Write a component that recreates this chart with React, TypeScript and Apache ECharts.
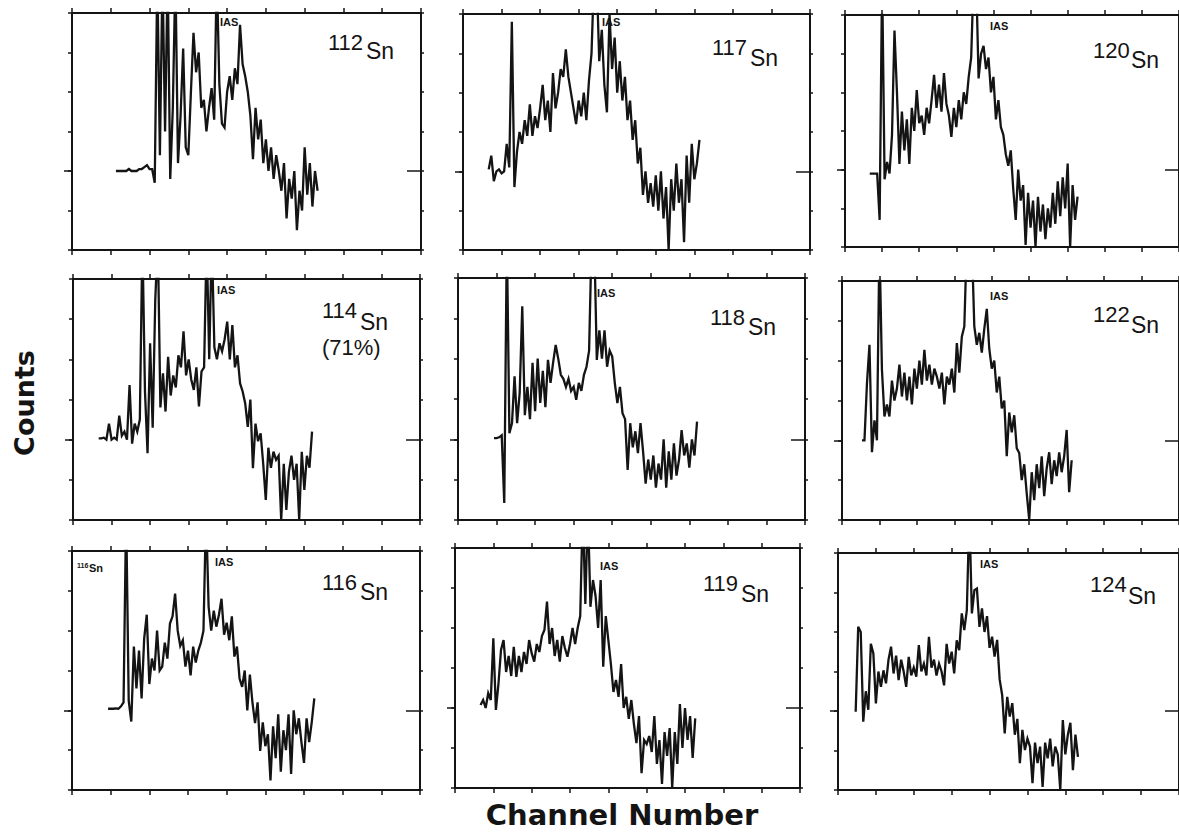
import React, { useEffect, useRef } from "react";
import * as echarts from "echarts";

// ---- data (counts; channel index starts at panelStarts[i]) ----
const panelIsotopes = ["112", "117", "120", "114", "118", "122", "116", "119", "124"];
const panelStarts = [17, 10, 10, 10, 14, 8, 14, 10, 7];

const counts112 = [
  20, 20, 20, 20, 20, 20.5, 20, 20, 20, 20.5, 20.5, 21, 21.5, 20.5, 20.5,
  17, 70, 24, 70, 30, 70, 18, 36, 70, 22, 34, 51, 26, 24, 40, 55, 45, 50, 36, 38,
  30, 36, 41, 33, 70, 42, 32, 31, 40, 44, 38, 46, 42, 57, 47, 44, 40, 34, 23, 36,
  28, 33, 22, 28, 20, 26, 18, 24, 20, 15, 22, 8, 18, 13, 20, 5, 15, 10, 26, 14,
  22, 11, 20, 15,
];
const counts117 = [
  20.5, 24, 17.5, 20, 20.5, 19.5, 20, 27, 21, 58, 16, 25, 30, 27, 33, 29, 37, 29,
  34, 31, 36, 42, 33, 38, 30, 45, 36, 40, 46, 44, 51, 44, 40, 36, 32, 38, 34, 40,
  33, 43, 50, 70, 70, 48, 56, 42, 35, 60, 46, 54, 40, 48, 38, 44, 33, 38, 28, 33,
  22, 26, 14, 20, 12, 17, 11, 19, 10, 20, 8, 16, 0, 18, 10, 22, 12, 18, 2, 24, 12,
  27, 18, 22, 28,
];
const counts120 = [
  19, 19, 19, 19, 7, 70, 17.5, 22, 19, 29, 56, 40, 21.5, 35, 25, 33, 21.5, 36, 30,
  40.6, 32, 34, 29, 36, 32, 38, 44.5, 36, 42, 35, 45, 37, 34, 28.5, 36, 31, 38, 33,
  40, 37, 44, 49, 70, 70, 43.6, 50, 52, 46, 49, 40, 44, 33, 38, 31, 29, 24, 21, 25,
  15, 7, 20, 12, 16, 0.5, 14, 5, 12, 0, 13, 4, 11, 2, 10, 5, 14, 6, 17, 8, 18, 10,
  21.6, 0, 16, 7, 13,
];
const counts114 = [
  20.3, 20.3, 20.5, 20, 24, 20, 20.5, 20, 26, 21, 22, 20, 33.6, 19, 24, 22, 25, 70,
  32, 16.6, 44, 23, 54.7, 70, 28, 36.5, 27, 40.6, 31, 36, 33, 41, 38, 47, 36, 40,
  35, 32.4, 38, 28.3, 37, 38, 70, 40, 70, 43, 40, 44, 42, 45, 49.4, 40, 48.5, 38,
  41, 34, 32, 29, 23.2, 30, 12.9, 24, 19.6, 21.6, 14, 5, 18, 13, 17, 15, 16, 0, 14,
  2.5, 12, 16, 10, 14, 0, 17, 7.5, 16, 13, 22,
];
const counts118 = [
  20.3, 20.3, 20.5, 21, 4.2, 70, 21.5, 24, 35.6, 24, 31.5, 53, 26, 33, 25, 39, 27,
  40, 29, 37, 28, 39.7, 34, 39, 43.4, 40, 36, 35, 33, 35, 32, 33, 29.8, 34, 32, 36,
  38, 42, 70, 70, 39.7, 47, 40, 47, 38, 42, 40.5, 34, 29, 33, 26.5, 25, 12.4, 24,
  18, 22, 16.6, 24, 17, 9, 15, 10, 16, 8, 14, 10, 20, 8, 17, 10, 19, 11, 15, 22.3,
  16, 19, 13, 20, 16, 24.4,
];
const counts122 = [
  20, 20, 34.3, 44, 17, 25, 20, 70, 37.7, 26, 29, 26, 35, 30, 33, 39, 31, 37, 30,
  36, 29, 38, 33, 40, 34, 42.7, 35, 39, 34, 38, 36, 33, 37, 29, 36, 34, 38, 32,
  44.4, 37, 46, 48.6, 70, 70, 70, 48.6, 44, 47, 42, 48, 53, 43, 38, 40, 32, 36, 28,
  30, 16, 27, 22, 26.3, 18, 16.8, 10, 14, 6.7, 0, 12, 5, 14, 8, 16, 6, 13, 17, 9,
  15, 11, 17, 12, 16, 22.6, 7, 15,
];
const counts116 = [
  20.4, 20.4, 20.4, 20.5, 20.4, 21, 22, 70, 22.4, 17.2, 36, 25.5, 35, 23, 38, 44,
  26.6, 33, 30, 40, 30, 31, 37, 33, 41.8, 43.6, 49.3, 40, 36.2, 37.6, 31, 35, 28.8,
  36, 32, 35, 37, 40, 70, 46, 40, 45, 41, 44, 48, 39, 42, 37.6, 43.6, 33.5, 36, 28,
  25.9, 30, 20, 29, 22, 16.8, 22, 9.8, 17, 11, 14, 2.4, 16, 8, 19, 4.6, 15, 10, 19,
  4, 20, 14, 18, 12, 6.8, 18, 12, 17, 23,
];
const counts119 = [
  20.75, 22, 20, 23.7, 22, 37.4, 19.5, 26, 34.5, 37, 29, 33, 28, 35.3, 27.8, 33, 29,
  34, 31, 37, 33.7, 31.6, 36, 34, 38, 39.5, 46.6, 36, 40, 33, 37, 31.6, 38, 35,
  32.8, 36, 40, 36, 40, 43, 70, 46, 70, 45.3, 52, 48, 40, 52, 30.3, 43, 37, 31, 24,
  27, 22.8, 31, 20, 22.8, 17.3, 22, 16, 11.2, 18, 3.7, 12, 11, 13, 9, 18, 6, 12, 1,
  14, 8, 15, 0, 14, 6, 21, 10, 20, 12, 18, 7.5, 17.4,
];
const counts124 = [
  19.8, 41.3, 40, 17.3, 25, 20.3, 37, 34.6, 21.9, 30, 26.1, 30.3, 27, 33, 36.3, 29.5,
  34, 27.8, 33, 30, 26.1, 33.7, 29, 31, 28.7, 36.7, 30, 32, 29, 38.8, 31, 33, 29, 32,
  30, 26.5, 37, 32, 35, 29.5, 37.9, 35.4, 44.7, 40.5, 45.5, 70, 44.7, 50.6, 51, 41.3,
  46, 40, 44, 36, 38.8, 33.8, 38, 28, 24, 14.3, 23.6, 18.6, 22, 14, 18, 6.8, 15.2,
  10.1, 13, 11, 1.7, 12, 6.8, 11, 0.8, 12, 8, 13, 6, 11, 9, 0, 17.7, 9, 14, 17, 5,
  14, 8.4,
];
const panelCounts = [counts112, counts117, counts120, counts114, counts118, counts122, counts116, counts119, counts124];

const X_MAX = 135;
const X_STEP = 15;
const Y_MAX = 60;
const Y_STEP = 10;
const Y_MAJOR = [20];

// ---- layout ----
const layout = [
  { left: 72, top: 13, width: 349, height: 237 },
  { left: 463, top: 14, width: 347, height: 236 },
  { left: 845, top: 15, width: 348, height: 232 },
  { left: 73, top: 279, width: 347, height: 241 },
  { left: 458, top: 278, width: 347, height: 242 },
  { left: 842, top: 281, width: 348, height: 239 },
  { left: 72, top: 551, width: 348, height: 239 },
  { left: 455, top: 548, width: 345, height: 240 },
  { left: 838, top: 553, width: 348, height: 237 },
];
// [massX, massY(center), snY(center)]
const labelPos = [
  [328, 42.5, 51],
  [712, 47.5, 57.5],
  [1093, 50.5, 60],
  [322, 310.5, 321.5],
  [710, 317.5, 326.5],
  [1093, 314.5, 325],
  [322, 582.5, 591.5],
  [703, 583.5, 593.5],
  [1090, 584.5, 595.5],
];
const iasPos = [
  [220, 21.5], [602, 22], [990, 26],
  [217, 290], [597, 293], [990, 296],
  [215, 562], [600, 566], [980, 564],
];

const INK = "#141414";
const FONT = "'Liberation Sans', Arial, sans-serif";

function buildOption() {
  const grid: any[] = [];
  const xAxis: any[] = [];
  const yAxis: any[] = [];
  const series: any[] = [];
  const graphic: any[] = [];

  layout.forEach((g, i) => {
    grid.push({ ...g, show: false, containLabel: false });
    ["bottom", "top"].forEach((pos) =>
      xAxis.push({
        type: "value",
        gridIndex: i,
        position: pos,
        min: 0,
        max: X_MAX,
        interval: X_STEP,
        axisLine: { show: true, onZero: false, lineStyle: { color: INK, width: 2 } },
        axisTick: { show: true, inside: false, length: 5, lineStyle: { color: INK, width: 1.5 } },
        axisLabel: { show: false },
        splitLine: { show: false },
      })
    );
    const yBase = {
      type: "value",
      gridIndex: i,
      min: 0,
      max: Y_MAX,
      interval: Y_STEP,
      axisLabel: { show: false },
      splitLine: { show: false },
    };
    yAxis.push({
      ...yBase,
      position: "left",
      axisLine: { show: true, onZero: false, lineStyle: { color: INK, width: 2 } },
      axisTick: { show: true, inside: false, length: 4, lineStyle: { color: INK, width: 1.5 } },
    });
    yAxis.push({
      ...yBase,
      position: "right",
      axisLine: { show: true, onZero: false, lineStyle: { color: INK, width: 2 } },
      axisTick: { show: true, inside: false, length: 3, lineStyle: { color: INK, width: 1.5 } },
    });
    yAxis.push({
      ...yBase,
      position: "left",
      axisLine: { show: false, onZero: false },
      axisTick: { show: true, inside: false, length: 8, customValues: Y_MAJOR, lineStyle: { color: INK, width: 1.5 } },
    });
    yAxis.push({
      ...yBase,
      position: "right",
      axisLine: { show: false, onZero: false },
      axisTick: { show: true, inside: true, length: 14, customValues: Y_MAJOR, lineStyle: { color: INK, width: 1.5 } },
    });

    const start = panelStarts[i];
    series.push({
      type: "line",
      xAxisIndex: i * 2,
      yAxisIndex: i * 4,
      data: panelCounts[i].map((v, k) => [start + k, v]),
      symbol: "none",
      showSymbol: false,
      clip: true,
      silent: true,
      lineStyle: { color: INK, width: 2.3, join: "miter", miterLimit: 4 },
    });

    const lp = labelPos[i];
    graphic.push({
      type: "text",
      x: lp[0],
      y: lp[1],
      style: { text: panelIsotopes[i], fontFamily: FONT, fontSize: 22, fill: INK, verticalAlign: "middle", align: "left" },
    });
    graphic.push({
      type: "text",
      x: lp[0] + 38,
      y: lp[2],
      style: { text: "Sn", fontFamily: FONT, fontSize: 23, fill: INK, verticalAlign: "middle", align: "left" },
    });
    const ip = iasPos[i];
    graphic.push({
      type: "text",
      x: ip[0],
      y: ip[1],
      style: { text: "IAS", fontFamily: FONT, fontSize: 11, fontWeight: "bold", fill: INK, verticalAlign: "middle", align: "left" },
    });
  });

  graphic.push({
    type: "text",
    x: 322,
    y: 347.5,
    style: { text: "(71%)", fontFamily: FONT, fontSize: 22, fill: INK, verticalAlign: "middle", align: "left" },
  });
  graphic.push({
    type: "text",
    x: 77,
    y: 565,
    style: { text: "116", fontFamily: FONT, fontSize: 7, fontWeight: "bold", fill: INK, verticalAlign: "middle", align: "left" },
  });
  graphic.push({
    type: "text",
    x: 89,
    y: 568,
    style: { text: "Sn", fontFamily: FONT, fontSize: 11, fontWeight: "bold", fill: INK, verticalAlign: "middle", align: "left" },
  });
  graphic.push({
    type: "text",
    x: 24,
    y: 403,
    rotation: Math.PI / 2,
    style: { text: "Counts", fontFamily: "'DejaVu Sans', sans-serif", fontSize: 27, fontWeight: "bold", fill: INK, verticalAlign: "middle", align: "center" },
  });
  graphic.push({
    type: "text",
    x: 622,
    y: 815,
    style: { text: "Channel Number", fontFamily: "'DejaVu Sans', sans-serif", fontSize: 29, fontWeight: "bold", fill: INK, verticalAlign: "middle", align: "center" },
  });

  return {
    animation: false,
    backgroundColor: "#ffffff",
    grid,
    xAxis,
    yAxis,
    series,
    graphic,
  };
}

export default function App() {
  const ref = useRef<HTMLDivElement>(null);
  useEffect(() => {
    if (!ref.current) return;
    const chart = echarts.init(ref.current, null, { renderer: "svg" });
    chart.setOption(buildOption() as any);
    return () => chart.dispose();
  }, []);
  return (
    <div
      ref={ref}
      style={{ position: "absolute", left: 0, top: 0, width: 1179, height: 837, background: "#fff" }}
    />
  );
}
